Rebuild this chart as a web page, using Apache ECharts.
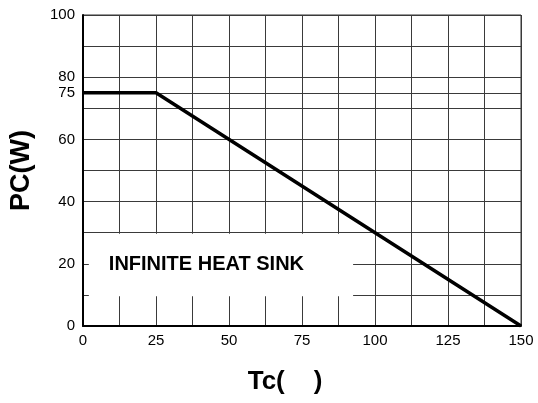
<!DOCTYPE html>
<html>
<head>
<meta charset="utf-8">
<script src="https://cdn.jsdelivr.net/npm/echarts@6/dist/echarts.min.js"></script>
<style>html,body{margin:0;padding:0;background:#fff}#c{width:538px;height:403px}</style>
</head>
<body>
<div id="c"></div>
<script>
// data
const tempC = [0, 25, 150];
const powerW = [75, 75, 0];
const xTickLabels = [0, 25, 50, 75, 100, 125, 150];
const yTickLabels = [0, 20, 40, 60, 80, 100];
const yExtraTick = [75];
const boxText = 'INFINITE HEAT SINK';
const boxCorners = [[2, 9.6], [92.5, 29.7]];

const font = '"Liberation Sans", Arial, sans-serif';
const chart = echarts.init(document.getElementById('c'));
chart.setOption({
  backgroundColor: '#fff',
  animation: false,
  grid: { left: 81, right: 17, top: 15, bottom: 77, show: true, borderColor: '#333', borderWidth: 1 },
  xAxis: {
    type: 'value', min: 0, max: 150, interval: 12.5,
    name: 'Tc(    )', nameLocation: 'middle', nameGap: 43,
    nameTextStyle: { fontFamily: font, fontSize: 26, fontWeight: 'bold', color: '#000', padding: [0, 34, 0, 0] },
    axisLine: { show: true, lineStyle: { color: '#000', width: 2 } },
    axisTick: { show: false },
    axisLabel: {
      fontFamily: font, fontSize: 15, color: '#000', margin: 7,
      formatter: v => xTickLabels.includes(v) ? String(v) : ''
    },
    splitLine: { show: true, lineStyle: { color: '#3a3a3a', width: 1 } }
  },
  yAxis: [{
    type: 'value', min: 0, max: 100, interval: 10,
    name: 'PC(W)', nameLocation: 'middle', nameGap: 48,
    nameTextStyle: { fontFamily: font, fontSize: 27, fontWeight: 'bold', color: '#000' },
    axisLine: { show: true, lineStyle: { color: '#000', width: 2 } },
    axisTick: { show: false },
    axisLabel: {
      fontFamily: font, fontSize: 15, color: '#000', margin: 8,
      formatter: v => yTickLabels.includes(v) ? String(v) : ''
    },
    splitLine: { show: true, lineStyle: { color: '#3a3a3a', width: 1 } }
  }, {
    type: 'value', min: 0, max: 100, interval: yExtraTick[0], position: 'left',
    axisLine: { show: false }, axisTick: { show: false },
    axisLabel: {
      fontFamily: font, fontSize: 15, color: '#000', margin: 8,
      formatter: v => yExtraTick.includes(v) ? String(v) : ''
    },
    splitLine: { show: true, lineStyle: { color: '#3a3a3a', width: 1 } }
  }],
  series: [{
    type: 'line',
    data: tempC.map((t, i) => [t, powerW[i]]),
    symbol: 'none',
    lineStyle: { color: '#000', width: 3.5 },
    z: 5,
    markArea: {
      silent: true,
      itemStyle: { color: '#fff', opacity: 1 },
      label: {
        show: true, position: 'insideLeft', distance: 20,
        fontFamily: font, fontSize: 20, fontWeight: 'bold', color: '#000'
      },
      data: [[{ name: boxText, coord: boxCorners[0] }, { coord: boxCorners[1] }]]
    }
  }]
});
</script>
</body>
</html>
